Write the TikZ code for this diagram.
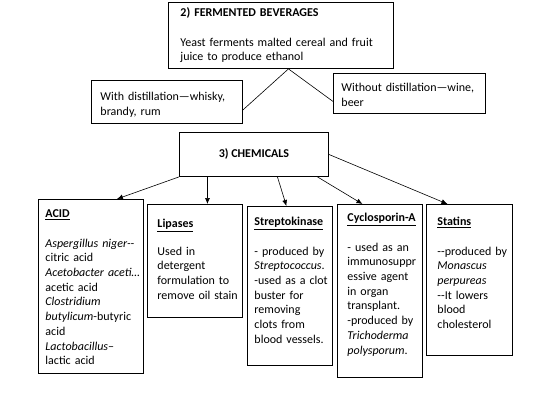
\documentclass[tikz,border=0pt]{standalone}
\usepackage{fontspec}
\setmainfont{Carlito}
\usetikzlibrary{arrows.meta}
\begin{document}
\begin{tikzpicture}
[x=1pt,y=-1pt,
  boxdecorate/.style={draw,line width=0.9pt,anchor=north west,align=left,
    inner ysep=0pt,font=\fontsize{12}{14.7}\selectfont},
  linedecorate/.style={-,line width=0.6pt},
  arrowdecorate/.style={-{Latex[length=6pt,width=5pt]},line width=0.6pt}]
\useasboundingbox (0,0) rectangle (549,404);
%% boxes
\node (bev) at (168,2) [boxdecorate,inner xsep=12pt,text width=201pt,
  text height=14pt,text depth=52pt]
  {\textbf{2) FERMENTED BEVERAGES}\\[15pt]
   Yeast ferments malted cereal and fruit\\
   juice to produce ethanol};
\node (withd) at (91,80) [boxdecorate,inner xsep=9pt,text width=133pt,
  text height=20pt,text depth=23pt]
  {With distillation---whisky,\\ brandy, rum};
\node (without) at (333,73) [boxdecorate,inner xsep=8pt,text width=136pt,
  text height=18pt,text depth=22pt]
  {Without distillation---wine,\\ beer};
\node (chem) at (179,132) [draw,line width=0.9pt,anchor=north west,
  inner sep=0pt,minimum width=149pt,minimum height=44pt,
  font=\fontsize{12}{14.7}\selectfont] {\textbf{3) CHEMICALS}};
\node (acid) at (38,199) [boxdecorate,inner xsep=7pt,text width=91pt,
  text height=18pt,text depth=156pt]
  {\underline{\textbf{ACID}}\\[15pt]
   \mbox{\textit{Aspergillus niger-{}-}}\\ citric acid\\
   \mbox{\textit{Acetobacter aceti\ldots}}\\ acetic acid\\
   \textit{Clostridium}\\ \mbox{\textit{butylicum}-butyric}\\ acid\\
   \mbox{\textit{Lactobacillus}--}\\ lactic acid};
\node (lip) at (147,204) [boxdecorate,inner xsep=10pt,text width=75pt,
  text height=23pt,text depth=90pt]
  {\underline{\textbf{Lipases}}\\[13pt]
   Used in\\ detergent\\ \mbox{formulation to}\\ \mbox{remove oil stain}};
\node (strep) at (247,206) [boxdecorate,inner xsep=7pt,text width=71pt,
  text height=19pt,text depth=140pt]
  {\underline{\textbf{Streptokinase}}\\[15pt]
   \mbox{- produced by}\\ \textit{Streptococcus}.\\ \mbox{-used as a clot}\\
   buster for\\ removing\\ clots from\\ \mbox{blood vessels.}};
\node (cyclo) at (337,204) [boxdecorate,inner xsep=10pt,text width=65pt,
  text height=17pt,text depth=156pt]
  {\underline{\textbf{Cyclosporin-A}}\\[15pt]
   \mbox{- used as an}\\ immunosuppr\\ \mbox{essive agent}\\ in organ\\
   transplant.\\ \mbox{-produced by}\\ \textit{Trichoderma}\\
   \textit{polysporum}.};
\node (stat) at (426,204) [boxdecorate,inner xsep=11pt,text width=64pt,
  text height=21pt,text depth=130pt]
  {\underline{\textbf{Statins}}\\[15pt]
   \mbox{-{}-produced by}\\ \textit{Monascus}\\ \textit{perpureas}\\
   \mbox{-{}-It lowers}\\ blood\\ cholesterol};
%% lines and arrows
\path
\foreach \startnode/\sx/\endnode/\ex in {bev.south/7.5/withd.east/0,
  bev.south/7.5/without.west/0} {
  ([xshift=\sx pt]\startnode) edge[linedecorate] ([xshift=\ex pt,yshift=-8pt]\endnode)
};
\path
\foreach \startnode/\sx/\endnode/\ex in {chem.south west/0/acid.north/26,
  chem.south/-46.5/lip.north/12.5, chem.south/23.5/strep.north/-3.5,
  chem.south/63.5/cyclo.north/-17.5, chem.east/0/stat.north/-22} {
  ([xshift=\sx pt]\startnode) edge[arrowdecorate] ([xshift=\ex pt]\endnode)
};
\end{tikzpicture}
\end{document}
